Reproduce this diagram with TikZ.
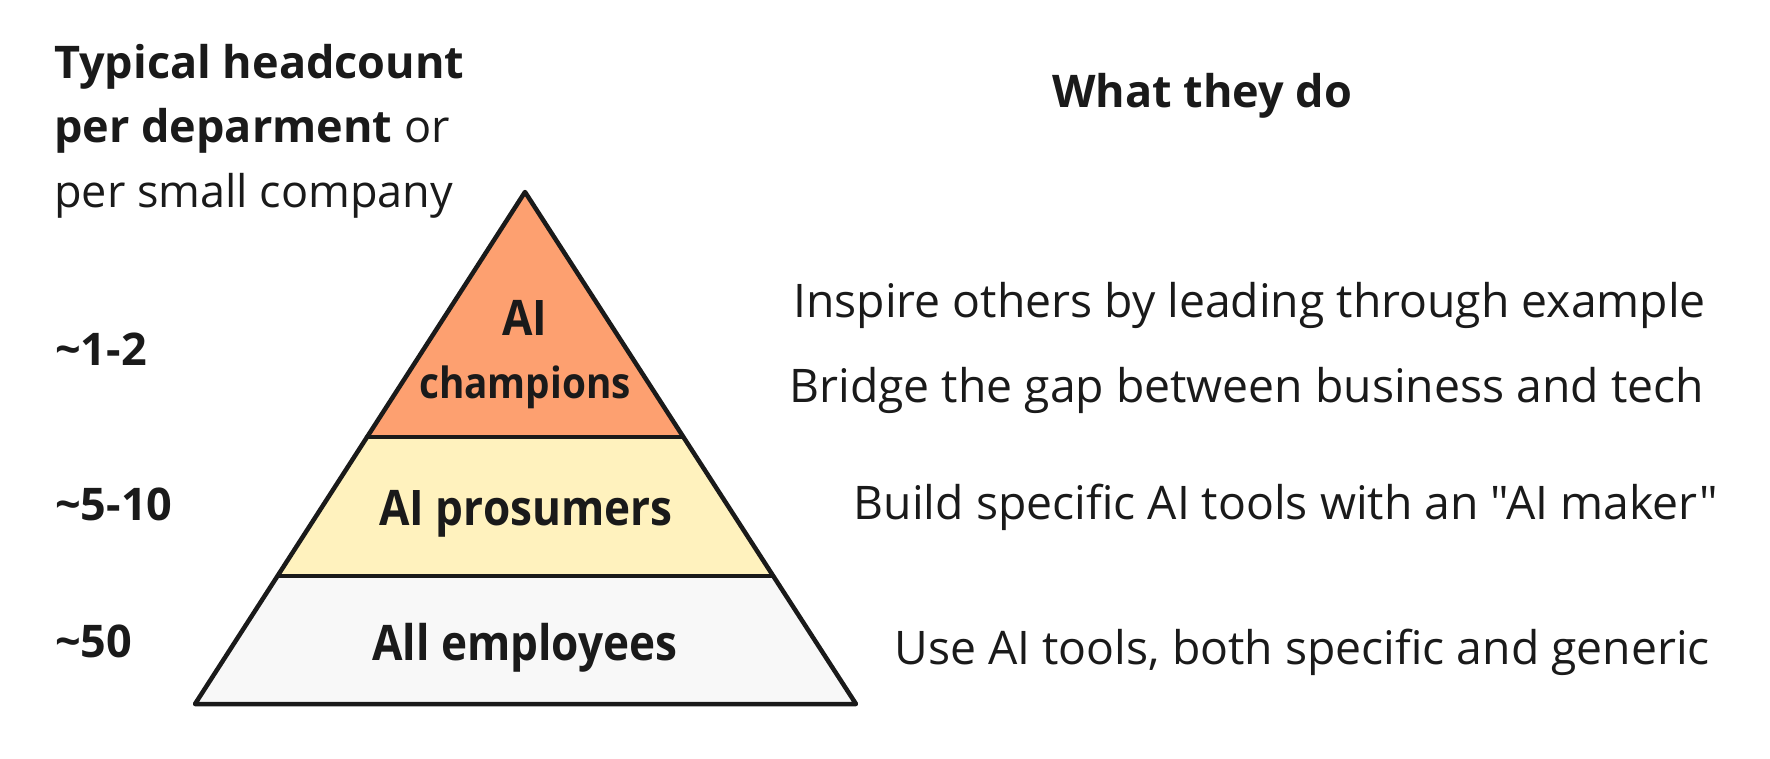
\documentclass[tikz,border=0pt]{standalone}
\usepackage{fontspec}
\setmainfont{Open Sans}
\newfontfamily\condfont[FakeStretch=0.9]{Open Sans}
\newfontfamily\plainfont[Ligatures=TeXOff]{Open Sans}
\definecolor{ink}{HTML}{1A1A1A}
\definecolor{champ}{HTML}{FDA070}
\definecolor{prosum}{HTML}{FFF2BE}
\definecolor{allemp}{HTML}{F8F8F8}
\tikzset{
  head/.style={inner sep=0pt, text=ink, font=\fontsize{45}{50}\selectfont},
  num/.style={inner sep=0pt, text=ink, anchor=base west, font=\fontsize{45}{50}\selectfont\bfseries},
  tier/.style={inner sep=0pt, text=ink, anchor=base, font=\fontsize{49}{50}\selectfont\condfont\bfseries},
  tiertop/.style={tier, font=\fontsize{43}{50}\selectfont\condfont\bfseries},
  desc/.style={inner sep=0pt, text=ink, anchor=base east, font=\fontsize{46.3}{50}\selectfont\plainfont},
  edge/.style={draw=ink, line width=4.5pt, line join=round, line cap=round}
}
\begin{document}
\begin{tikzpicture}[x=1pt,y=-1pt]
\useasboundingbox[fill=white] (0,0) rectangle (1770,758);
% pyramid corners
\coordinate (apex) at (525,192);
\coordinate (bl) at (195,704);
\coordinate (br) at (856,704);
\coordinate (l1) at (367,437);
\coordinate (r1) at (683,437);
\coordinate (l2) at (278,576);
\coordinate (r2) at (773,576);
\fill[champ] (apex) -- (r1) -- (l1) -- cycle;
\fill[prosum] (l1) -- (r1) -- (r2) -- (l2) -- cycle;
\fill[allemp] (l2) -- (r2) -- (br) -- (bl) -- cycle;
\draw[edge] (apex) -- (br) -- (bl) -- cycle;
\draw[edge] (l1) -- (r1);
\draw[edge] (l2) -- (r2);
% tier labels
\node[tier] (tAI) at (525,335) {AI};
\node[tiertop] (tchamp) at (525,398) {champions};
\node[tier] (tpro) at (526,525) {AI prosumers};
\node[tier] (tall) at (525,660) {All employees};
% header left
\node[head, anchor=base west] (h1) at (54,78) {\bfseries Typical headcount};
\node[head, anchor=base west] (h2) at (54,142) {\bfseries per deparment\mdseries{} or};
\node[head, anchor=base west] (h3) at (54,207) {per small company};
% numbers
\node[num] (n1) at (55,365) {\char"007E 1-2};
\node[num] (n2) at (55,520) {\char"007E 5-10};
\node[num] (n3) at (55,657) {\char"007E 50};
% header right
\node[head, anchor=base, font=\fontsize{45}{50}\selectfont\bfseries] (h4) at (1202,107) {What they do};
% descriptions
\node[desc] (d1) at (1706,317) {Inspire others by leading through example};
\node[desc] (d2) at (1704,402) {Bridge the gap between business and tech};
\node[desc] (d3) at (1718,519) {Build specific AI tools with an "AI maker"};
\node[desc] (d4) at (1710,664) {Use AI tools, both specific and generic};
\end{tikzpicture}
\end{document}
